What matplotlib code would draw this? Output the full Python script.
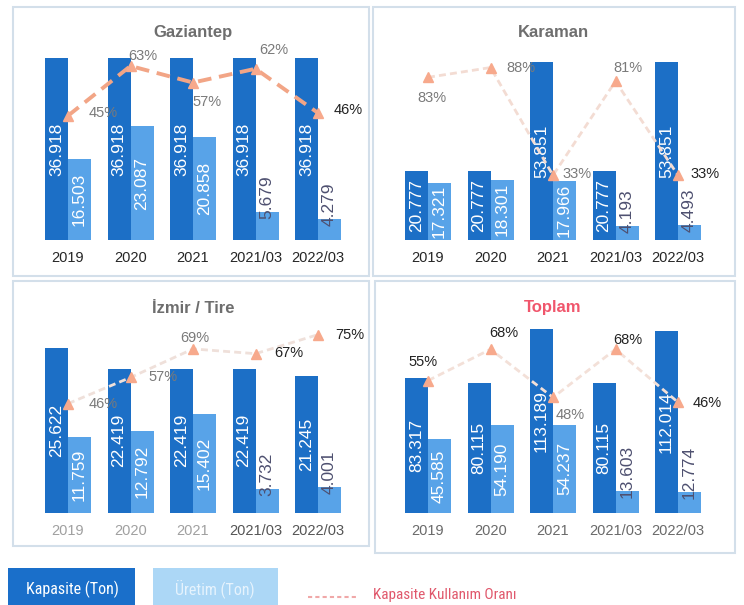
import numpy as np
import matplotlib
matplotlib.use('Agg')
import matplotlib.pyplot as plt
from matplotlib.patches import Rectangle
from matplotlib.lines import Line2D
from matplotlib import font_manager

names = {f.name for f in font_manager.fontManager.ttflist}
narrow = None
for cand in ['Liberation Sans Narrow', 'Roboto Condensed', 'Open Sans Condensed']:
    if cand in names:
        narrow = cand
        break
plt.rcParams['font.family'] = ['Liberation Sans', 'DejaVu Sans']

# veriler (bin ton)
years = ['2019', '2020', '2021', '2021/03', '2022/03']

gaziantep_kap = [36.918, 36.918, 36.918, 36.918, 36.918]
gaziantep_ur = [16.503, 23.087, 20.858, 5.679, 4.279]
gaziantep_oran = [45, 63, 57, 62, 46]

karaman_kap = [20.777, 20.777, 53.851, 20.777, 53.851]
karaman_ur = [17.321, 18.301, 17.966, 4.193, 4.493]
karaman_oran = [83, 88, 33, 81, 33]

izmir_kap = [25.622, 22.419, 22.419, 22.419, 21.245]
izmir_ur = [11.759, 12.792, 15.402, 3.732, 4.001]
izmir_oran = [46, 57, 69, 67, 75]

toplam_kap = [83.317, 80.115, 113.189, 80.115, 112.014]
toplam_ur = [45.585, 54.190, 54.237, 13.603, 12.774]
toplam_oran = [55, 68, 48, 68, 46]

KAP = '#1c6fc6'
UR = '#58a3e8'
DARK = '#262626'
GRAY = '#7a7a7a'

W, H = 744, 605
fig = plt.figure(figsize=(W / 100, H / 100), dpi=100)
fig.patch.set_facecolor('white')


def fx(px):
    return px / W


def fy(py):
    return 1 - py / H


# panel cerceveleri
for (x0, y0, x1, y1) in [(13, 7, 369, 276), (373, 7, 735, 276),
                         (13, 281, 369, 546), (375, 281, 735, 553)]:
    fig.patches.append(Rectangle((fx(x0), fy(y1)), fx(x1 - x0), (y1 - y0) / H,
                                 transform=fig.transFigure, fill=False,
                                 edgecolor='#d3dfea', lw=1.5))

panels = [
    dict(name='Gaziantep', kap=gaziantep_kap, ur=gaziantep_ur, oran=gaziantep_oran,
         left=30.5, base=240, ytop=39.6, rtop=70.6, tcolor='#6e6e6e', ty=1.062,
         off=[(35, 3), (12, 10), (14, -19), (18, 19), (30, 3)],
         pcol=[GRAY, GRAY, GRAY, GRAY, '#222222'],
         line=dict(color='#f2a586', lw=2.8, dashes=(3.5, 2)),
         tick_cols=[DARK] * 5),
    dict(name='Karaman', kap=karaman_kap, ur=karaman_ur, oran=karaman_oran,
         left=390.5, base=240, ytop=59.0, rtop=99.5, tcolor='#6e6e6e', ty=1.062,
         off=[(4, -21), (30, 0), (24, 1), (12, 13), (27, 1)],
         pcol=[GRAY, GRAY, GRAY, GRAY, '#222222'],
         line=dict(color='#f3dcd3', lw=2.0, dashes=(2.5, 1.5)),
         tick_cols=[DARK] * 5),
    dict(name='İzmir / Tire', kap=izmir_kap, ur=izmir_ur, oran=izmir_oran,
         left=30.5, base=513, ytop=30.3, rtop=82.0, tcolor='#6e6e6e', ty=1.05,
         off=[(35, 0), (33, 0), (2, 11), (33, 1), (32, 0)],
         pcol=[GRAY, GRAY, GRAY, '#222222', '#222222'],
         line=dict(color='#efe0da', lw=2.0, dashes=(2.5, 1.5)),
         tick_cols=['#a0a0a0', '#a0a0a0', '#a0a0a0', '#555555', '#555555']),
    dict(name='Toplam', kap=toplam_kap, ur=toplam_ur, oran=toplam_oran,
         left=390.5, base=513, ytop=120.0, rtop=81.0, tcolor='#f0566c', ty=1.056,
         off=[(-5, 19), (13, 16), (17, -18), (12, 9), (29, -1)],
         pcol=['#222222', '#222222', GRAY, '#222222', '#222222'],
         line=dict(color='#f3e0d8', lw=2.0, dashes=(2.5, 1.5)),
         tick_cols=['#6a6a6a'] * 5),
]

x = np.arange(len(years))
bw = 0.368
ax_h = 195

for p in panels:
    ax = fig.add_axes([fx(p['left']), fy(p['base']), fx(325), ax_h / H])
    ax.set_xlim(-0.6, 4.6)
    ax.set_ylim(0, p['ytop'])
    b1 = ax.bar(x - bw / 2, p['kap'], bw, color=KAP)
    b2 = ax.bar(x + bw / 2, p['ur'], bw, color=UR)
    for bars, vals in ((b1, p['kap']), (b2, p['ur'])):
        for rect, v in zip(bars, vals):
            cx = rect.get_x() + rect.get_width() / 2
            if v / p['ytop'] > 0.2:
                ax.text(cx, v / 2, f'{v:.3f}', rotation=90, ha='center', va='center',
                        color='white', fontsize=12.5)
            else:
                ax.annotate(f'{v:.3f}', (cx, v), xytext=(0, -7), textcoords='offset pixels',
                            rotation=90, ha='center', va='bottom', color='#4e5070',
                            fontsize=12.5)
    ax.set_xticks(x)
    ax.set_xticklabels(years, fontsize=10.5)
    for t, c in zip(ax.get_xticklabels(), p['tick_cols']):
        t.set_color(c)
    ax.tick_params(axis='x', length=0, pad=8)
    ax.set_yticks([])
    for s in ax.spines.values():
        s.set_visible(False)
    ax.text(0.5, p['ty'], p['name'], transform=ax.transAxes, ha='center', va='center',
            fontsize=12, fontweight='bold', color=p['tcolor'])

    ax2 = ax.twinx()
    ax2.set_ylim(0, p['rtop'])
    ax2.plot(x, p['oran'], color=p['line']['color'], lw=p['line']['lw'],
             dashes=p['line']['dashes'], marker='^', markersize=7,
             markerfacecolor='#f7a98c', markeredgecolor='#f7a98c')
    for xi, v, (dx, dy), c in zip(x, p['oran'], p['off'], p['pcol']):
        ax2.annotate(f'{v}%', (xi, v), xytext=(dx, dy), textcoords='offset pixels',
                     ha='center', va='center', fontsize=10.5, color=c)
    ax2.set_yticks([])
    for s in ax2.spines.values():
        s.set_visible(False)

# lejant
if narrow:
    lfam = [narrow, 'DejaVu Sans']
    s_box, s_line = 11.5, 11
else:
    lfam = ['Liberation Sans', 'DejaVu Sans']
    s_box, s_line = 10, 10
fig.patches.append(Rectangle((fx(8), 0), fx(127), 37 / H, transform=fig.transFigure,
                             facecolor='#1a6fca', edgecolor='none'))
fig.text(fx(72), fy(589), 'Kapasite (Ton)', ha='center', va='center', color='white',
         fontsize=s_box, family=lfam)
fig.patches.append(Rectangle((fx(153), 0), fx(125), 37 / H, transform=fig.transFigure,
                             facecolor='#acd7f6', edgecolor='none'))
fig.text(fx(215), fy(589), 'Üretim (Ton)', ha='center', va='center', color='#e6f3fd',
         fontsize=s_box, family=lfam)
fig.lines.append(Line2D([fx(308), fx(358)], [fy(597), fy(597)], transform=fig.transFigure,
                        color='#f0a8a8', lw=1.5, dashes=(2, 1.5)))
fig.text(fx(373), fy(595), 'Kapasite Kullanım Oranı', ha='left', va='center',
         color='#e0586c', fontsize=s_line, family=lfam)

fig.savefig('out.png', dpi=100)
